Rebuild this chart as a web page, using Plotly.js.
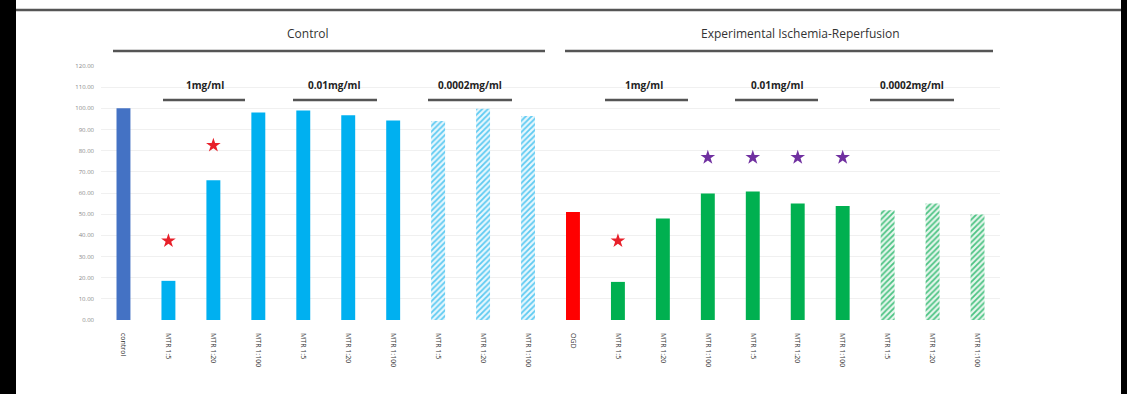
<!DOCTYPE html>
<html>
<head>
<meta charset="utf-8">
<script src="https://cdn.plot.ly/plotly-3.0.1.min.js"></script>
<style>
html,body{margin:0;padding:0;background:#fff;}
#chart{width:1127px;height:394px;}
</style>
</head>
<body>
<div id="chart"></div>
<script>
// ---- data ----
var tickLabels = ['control','MTR 1:5','MTR 1:20','MTR 1:100','MTR 1:5','MTR 1:20','MTR 1:100','MTR 1:5','MTR 1:20','MTR 1:100',
                  'OGD','MTR 1:5','MTR 1:20','MTR 1:100','MTR 1:5','MTR 1:20','MTR 1:100','MTR 1:5','MTR 1:20','MTR 1:100'];
var controlVal = [100];
var ctrlSolidVal = [18.5, 66, 98, 99, 96.7, 94.3];
var ctrlHatchVal = [94, 99.8, 96.4];
var ogdVal = [51];
var irSolidVal = [18, 48, 59.8, 60.7, 55, 53.8];
var irHatchVal = [51.8, 55, 49.8];
var redStarIdx = [1, 2, 11];
var redStarVal = [37.4, 82.5, 37.4];
var purpleStarIdx = [13, 14, 15, 16];
var purpleStarVal = [76.8, 76.8, 76.8, 76.8];
var groupTitles = ['Control', 'Experimental Ischemia-Reperfusion'];
var doseTitles = ['1mg/ml', '0.01mg/ml', '0.0002mg/ml', '1mg/ml', '0.01mg/ml', '0.0002mg/ml'];
var yTicks = [0,10,20,30,40,50,60,70,80,90,100,110,120];

// ---- helpers ----
var idx = tickLabels.map(function(_, i){ return i; });
var L = 101, R = 1000, T = 66, B = 320;
function px(x){ return (x - L) / (R - L); }
function py(y){ return (B - y) / (B - T); }
var BW = 0.31;

var traces = [
  {type:'bar', x:[0], y:controlVal, width:BW, marker:{color:'#4472C4', line:{width:0}}, hoverinfo:'y'},
  {type:'bar', x:idx.slice(1,7), y:ctrlSolidVal, width:BW, marker:{color:'#00B0F0', line:{width:0}}},
  {type:'bar', x:idx.slice(7,10), y:ctrlHatchVal, width:BW,
   marker:{color:'#ffffff', line:{width:0}, pattern:{shape:'/', fgcolor:'#5ccaf2', bgcolor:'#e8f7fd', size:4, solidity:0.45}}},
  {type:'bar', x:[10], y:ogdVal, width:BW, marker:{color:'#FF0000', line:{width:0}}},
  {type:'bar', x:idx.slice(11,17), y:irSolidVal, width:BW, marker:{color:'#00B050', line:{width:0}}},
  {type:'bar', x:idx.slice(17,20), y:irHatchVal, width:BW,
   marker:{color:'#ffffff', line:{width:0}, pattern:{shape:'/', fgcolor:'#4cc383', bgcolor:'#e6f6ed', size:4, solidity:0.45}}},
  {type:'scatter', mode:'markers', x:redStarIdx, y:redStarVal, marker:{symbol:'star', size:11, color:'#E8202A'}},
  {type:'scatter', mode:'markers', x:purpleStarIdx, y:purpleStarVal, marker:{symbol:'star', size:11, color:'#7030A0'}}
];

var shapes = [];
var annotations = [];
function hline(x0, x1, y, w, c){
  shapes.push({type:'line', xref:'paper', yref:'paper', x0:px(x0), x1:px(x1), y0:py(y), y1:py(y), line:{color:c, width:w}});
}
function text(x, y, t, size, bold, color){
  annotations.push({xref:'paper', yref:'paper', x:px(x), y:py(y), text: bold ? '<b>'+t+'</b>' : t, showarrow:false,
    xanchor:'center', yanchor:'middle', font:{family:'Open Sans, Liberation Sans, sans-serif', size:size, color:color}});
}
// black frame strips and top rule
shapes.push({type:'rect', xref:'paper', yref:'paper', x0:px(0), x1:px(16), y0:py(394), y1:py(0), fillcolor:'#000', line:{width:0}, layer:'above'});
shapes.push({type:'rect', xref:'paper', yref:'paper', x0:px(1121), x1:px(1127), y0:py(394), y1:py(0), fillcolor:'#000', line:{width:0}, layer:'above'});
hline(16, 1121, 10, 2.5, '#555');
// group titles
text(308, 33, groupTitles[0], 12, false, '#333');
text(800, 33, groupTitles[1], 12, false, '#333');
hline(113, 545, 51, 2.5, '#555');
hline(565, 993, 51, 2.5, '#555');
// dose titles
var doseX = [205, 334, 470, 644, 777, 912];
var doseLine = [[163,245],[293,377],[428,512],[605,688],[735,818],[870,954]];
for (var i = 0; i < doseTitles.length; i++){
  text(doseX[i], 85, doseTitles[i], 10, true, '#222');
  hline(doseLine[i][0], doseLine[i][1], 100, 2.5, '#555');
}

var layout = {
  width:1127, height:394,
  margin:{l:L, r:1127-R, t:T, b:394-B},
  paper_bgcolor:'#fff', plot_bgcolor:'#fff',
  showlegend:false, barmode:'overlay',
  xaxis:{range:[-0.5,19.5], tickvals:idx, ticktext:tickLabels, tickangle:90,
         tickfont:{family:'Open Sans, Liberation Sans, sans-serif', size:7, color:'#333'},
         showgrid:false, zeroline:false, showline:false, ticks:'', ticklabelstandoff:12, fixedrange:true},
  yaxis:{range:[0,120], tickvals:yTicks, tickformat:'.2f',
         tickfont:{family:'Open Sans, Liberation Sans, sans-serif', size:6, color:'#888'},
         showgrid:true, gridcolor:'#f0f0f0', gridwidth:1, zeroline:false, showline:false, ticks:'', ticklabelstandoff:6, fixedrange:true},
  shapes:shapes,
  annotations:annotations
};

Plotly.newPlot('chart', traces, layout, {displayModeBar:false, staticPlot:true});
</script>
</body>
</html>
